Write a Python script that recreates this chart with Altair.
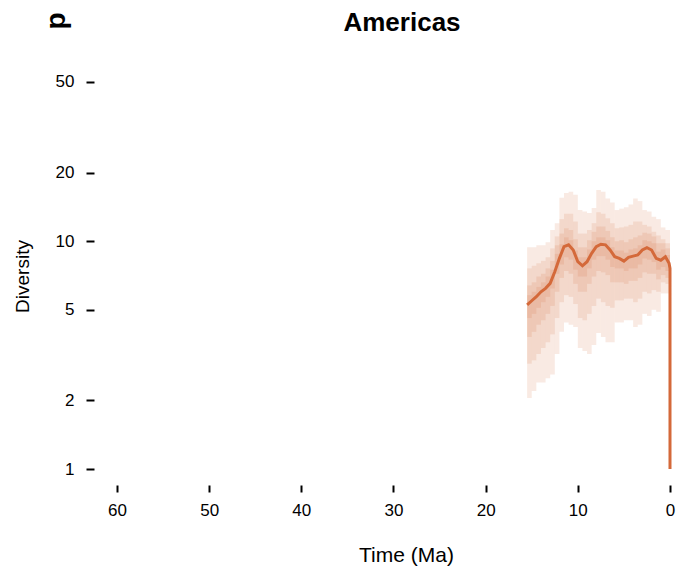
import altair as alt
import pandas as pd

ORANGE = "#D4693A"
FONT = "Liberation Sans"

# time bins (Ma), oldest -> youngest
bin_old = [15.5, 15.0, 14.5, 14.0, 13.5, 13.0, 12.5, 12.0, 11.5, 11.0, 10.5,
           10.0, 9.5, 9.0, 8.5, 8.0, 7.5, 7.0, 6.5, 6.0, 5.5, 5.0, 4.5, 4.0,
           3.5, 3.0, 2.5, 2.0, 1.5, 1.0, 0.5]
bin_young = [15.0, 14.5, 14.0, 13.5, 13.0, 12.5, 12.0, 11.5, 11.0, 10.5, 10.0,
             9.5, 9.0, 8.5, 8.0, 7.5, 7.0, 6.5, 6.0, 5.5, 5.0, 4.5, 4.0, 3.5,
             3.0, 2.5, 2.0, 1.5, 1.0, 0.5, 0.0]

# nested credible intervals (outer -> inner)
outer_lo = [2.05, 2.2, 2.4, 2.4, 2.5, 2.6, 3.2, 4.0, 4.4, 4.3, 4.2, 3.4, 3.3, 3.2, 3.5, 3.95,
            3.8, 3.6, 3.6, 4.4, 4.4, 4.5, 4.5, 4.2, 4.3, 4.8, 4.7, 5.0, 4.9, 5.9, 5.9]
outer_hi = [9.4, 9.4, 9.6, 9.6, 9.9, 11.2, 12.0, 15.5, 16.3, 16.5, 16.0, 13.7, 13.5, 13.3, 14.0, 16.8,
            16.5, 15.4, 14.8, 13.7, 13.9, 14.1, 14.5, 15.4, 15.0, 13.7, 13.5, 12.8, 12.5, 11.5, 11.2]
mid_lo = [2.9, 3.0, 3.2, 3.4, 3.6, 3.9, 4.6, 5.4, 5.8, 5.7, 5.3, 4.6, 4.5, 4.8, 5.2, 5.6,
          5.4, 5.2, 5.1, 5.5, 5.5, 5.6, 5.6, 5.4, 5.6, 6.0, 5.9, 6.1, 6.0, 6.6, 6.5]
mid_hi = [7.6, 7.8, 8.0, 8.2, 8.5, 9.3, 10.5, 12.5, 13.2, 13.2, 12.2, 10.8, 10.8, 11.2, 12.0, 13.4,
          13.2, 12.6, 12.0, 11.4, 11.5, 11.6, 11.8, 12.2, 12.2, 11.8, 11.6, 11.0, 10.6, 10.2, 9.8]
half_lo = [3.8, 4.0, 4.3, 4.5, 4.8, 5.2, 6.0, 6.9, 7.4, 7.2, 6.5, 6.0, 6.0, 6.5, 7.0, 7.4,
           7.3, 7.1, 6.6, 6.6, 6.6, 6.5, 6.7, 6.7, 6.9, 7.3, 7.2, 7.2, 6.8, 7.1, 6.9]
half_hi = [6.4, 6.6, 7.0, 7.2, 7.6, 8.2, 9.6, 10.8, 11.4, 11.2, 10.2, 9.4, 9.4, 10.1, 11.0, 11.6,
           11.6, 11.1, 10.4, 10.0, 10.1, 9.9, 10.2, 10.4, 10.6, 10.9, 10.8, 10.5, 9.8, 9.8, 9.3]
core_lo = [4.6, 4.8, 5.1, 5.4, 5.7, 6.2, 7.2, 7.9, 8.5, 8.3, 7.5, 7.0, 7.0, 7.6, 8.3, 8.6,
           8.6, 8.3, 7.7, 7.6, 7.6, 7.4, 7.6, 7.6, 7.9, 8.4, 8.3, 8.1, 7.5, 7.7, 7.4]
core_hi = [5.8, 6.0, 6.3, 6.6, 7.0, 7.5, 8.8, 9.7, 10.4, 10.1, 9.1, 8.5, 8.5, 9.2, 10.0, 10.4,
           10.4, 10.1, 9.4, 9.1, 9.1, 8.9, 9.2, 9.3, 9.6, 10.1, 10.0, 9.8, 9.0, 9.2, 8.7]

# median diversity trajectory
median_time = [15.5, 15.0, 14.5, 14.0, 13.5, 13.0, 12.5, 12.0, 11.5, 11.0, 10.5, 10.0, 9.5,
               9.0, 8.5, 8.0, 7.5, 7.0, 6.5, 6.0, 5.5, 5.0, 4.5, 4.0, 3.5, 3.0, 2.5, 2.0,
               1.5, 1.0, 0.5, 0.1, 0.0, 0.0]
median_div = [5.25, 5.48, 5.71, 6.0, 6.21, 6.53, 7.35, 8.41, 9.46, 9.64, 9.15, 8.13, 7.8,
              8.13, 8.85, 9.46, 9.7, 9.64, 9.15, 8.55, 8.41, 8.18, 8.5, 8.6, 8.7, 9.15, 9.37,
              9.15, 8.41, 8.25, 8.55, 8.0, 7.6, 1.0]

x_ticks = [60, 50, 40, 30, 20, 10, 0]
y_ticks = [1, 2, 5, 10, 20, 50]

levels = [(outer_lo, outer_hi), (mid_lo, mid_hi), (half_lo, half_hi), (core_lo, core_hi)]
rows = []
for k, (lo, hi) in enumerate(levels):
    for i in range(len(bin_old)):
        rows.append({"t0": bin_old[i], "t1": bin_young[i], "lo": lo[i], "hi": hi[i], "level": k})
bands = pd.DataFrame(rows)
med = pd.DataFrame({"t": median_time, "d": median_div, "o": list(range(len(median_time)))})
lab_p = pd.DataFrame({"lab": ["p"]})
lab_title = pd.DataFrame({"lab": ["Americas"]})

xs = alt.Scale(domain=[61.84, -1.085], nice=False, zero=False)
ys = alt.Scale(type="log", domain=[0.895, 62.45], nice=False, zero=False)

x_axis = alt.Axis(
    values=x_ticks, domain=False, grid=False, tickSize=7, tickWidth=2,
    tickColor="black", offset=5, labelFontSize=17, labelFont=FONT,
    labelColor="black", labelPadding=10, title="Time (Ma)", titleFont=FONT,
    titleFontSize=21, titleFontWeight="normal", titleColor="black",
    titleX=306, titleY=76, titleBaseline="alphabetic")
y_axis = alt.Axis(
    values=y_ticks, format="d", domain=False, grid=False, tickSize=8, tickWidth=2,
    tickColor="black", offset=6, labelFontSize=17, labelFont=FONT,
    labelColor="black", labelPadding=12, title="Diversity", titleFont=FONT,
    titleFontSize=19, titleFontWeight="normal", titleColor="black",
    titleX=-72, titleY=216, titleBaseline="middle", titleAngle=270)

band_layer = alt.Chart(bands).mark_rect(color=ORANGE, opacity=0.14, strokeWidth=0).encode(
    x=alt.X("t0:Q", scale=xs, axis=x_axis),
    x2="t1:Q",
    y=alt.Y("lo:Q", scale=ys, axis=y_axis),
    y2="hi:Q",
)

line_layer = alt.Chart(med).mark_line(color=ORANGE, strokeWidth=3).encode(
    x=alt.X("t:Q", scale=xs, axis=x_axis),
    y=alt.Y("d:Q", scale=ys, axis=y_axis),
    order="o:Q",
)

p_layer = alt.Chart(lab_p).mark_text(
    fontSize=28, fontWeight="bold", font=FONT, angle=270, align="center",
    baseline="middle", color="black"
).encode(text="lab:N", x=alt.value(-43), y=alt.value(-39))

title_layer = alt.Chart(lab_title).mark_text(
    fontSize=26, fontWeight="bold", font=FONT, align="center",
    baseline="alphabetic", color="black"
).encode(text="lab:N", x=alt.value(302), y=alt.value(-29))

chart = alt.layer(band_layer, line_layer, p_layer, title_layer).properties(
    width=580, height=420,
    autosize=alt.AutoSizeParams(type="none"),
    padding={"left": 100, "top": 60, "right": 13, "bottom": 93},
    background="white",
).configure_view(stroke=None)

chart.save("out.html", embed_options={"renderer": "svg", "actions": False})
